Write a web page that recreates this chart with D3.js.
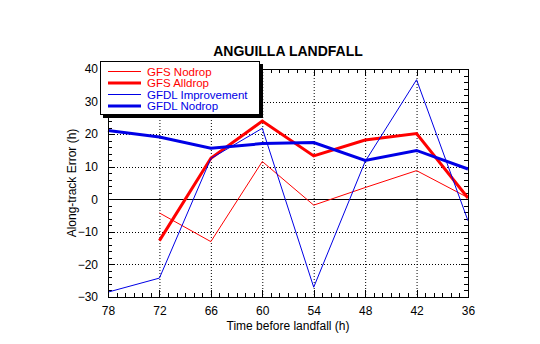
<!DOCTYPE html>
<html><head><meta charset="utf-8">
<script src="https://cdn.jsdelivr.net/npm/d3@7"></script>
<style>body{margin:0;background:#fff}svg{display:block}text{font-family:"Liberation Sans",Arial,Helvetica,sans-serif}</style>
</head><body>
<script>
const hours = [78,72,66,60,54,48,42,36];
const gfsNodrop = [null,-4.2,-13,11.6,-1.8,3.6,8.8,0.5];
const gfsAlldrop = [null,-12.7,12.6,24,13.3,18.2,20.2,0.4];
const gfdlImprovement = [-28.5,-24.2,12.5,21.8,-27,11.6,36.7,-6.6];
const gfdlNodrop = [21.1,19.1,15.7,17.1,17.4,11.9,15,9.3];
const xTicks = [78,72,66,60,54,48,42,36];
const yTicks = [-30,-20,-10,0,10,20,30,40];
const seriesNames = ["GFS Nodrop","GFS Alldrop","GFDL Improvement","GFDL Nodrop"];
const seriesData = [gfsNodrop,gfsAlldrop,gfdlImprovement,gfdlNodrop];
const seriesColors = ["#ff0000","#ff0000","#0000e6","#0000e6"];
const seriesWidths = [1,3,1,3];

const W=540,H=344, L=108,R=468,T=69,B=297;
const svg=d3.select("body").append("svg").attr("width",W).attr("height",H);
const x=d3.scaleLinear().domain([78,36]).range([L,R]);
const y=d3.scaleLinear().domain([-30,40]).range([B,T]);

// grid
const g=svg.append("g");
g.selectAll(".gx").data(xTicks.filter(d=>d!==78&&d!==36)).enter().append("line")
 .attr("x1",d=>x(d)+0.5).attr("x2",d=>x(d)+0.5).attr("y1",T).attr("y2",B)
 .attr("stroke","#000").attr("stroke-dasharray","1,2");
g.selectAll(".gy").data(yTicks.filter(d=>d!==-30&&d!==40&&d!==0)).enter().append("line")
 .attr("y1",d=>Math.round(y(d))+0.5).attr("y2",d=>Math.round(y(d))+0.5).attr("x1",L).attr("x2",R)
 .attr("stroke","#000").attr("stroke-dasharray","1,2");
g.append("line").attr("x1",L).attr("x2",R).attr("y1",Math.round(y(0))+0.5).attr("y2",Math.round(y(0))+0.5).attr("stroke","#000").attr("stroke-width",1.2);

// ticks on all sides
const xMinor=d3.range(36,79,1), yMinor=d3.range(-30,41,2);
xMinor.forEach(v=>{const len=(v%6===0)?7:4;const px=Math.round(x(v))+0.5;
 g.append("line").attr("x1",px).attr("x2",px).attr("y1",B).attr("y2",B-len).attr("stroke","#000");
 g.append("line").attr("x1",px).attr("x2",px).attr("y1",T).attr("y2",T+len).attr("stroke","#000");});
yMinor.forEach(v=>{const len=(v%10===0)?7:4;const py=Math.round(y(v))+0.5;
 g.append("line").attr("y1",py).attr("y2",py).attr("x1",L).attr("x2",L+len).attr("stroke","#000");
 g.append("line").attr("y1",py).attr("y2",py).attr("x1",R).attr("x2",R-len).attr("stroke","#000");});

// series
const line=d3.line().defined(d=>d[1]!==null).x(d=>x(d[0])).y(d=>y(d[1]));
seriesData.forEach((s,i)=>{
 svg.append("path").datum(hours.map((h,j)=>[h,s[j]])).attr("d",line)
  .attr("fill","none").attr("stroke",seriesColors[i]).attr("stroke-width",seriesWidths[i]).attr("stroke-linejoin","miter");
});

// frame
svg.append("rect").attr("x",L+0.5).attr("y",T+0.5).attr("width",R-L).attr("height",B-T).attr("fill","none").attr("stroke","#000");

// axes labels via d3 axes (text only)
const xa=svg.append("g").attr("transform",`translate(0,${B})`).call(d3.axisBottom(x).tickValues(xTicks).tickSize(0).tickPadding(9).tickFormat(d3.format("d")));
xa.select(".domain").remove();
xa.selectAll("text").attr("font-size",12).attr("fill","#000").attr("font-family","Liberation Sans, Arial, sans-serif");
const ya=svg.append("g").attr("transform",`translate(${L},0)`).call(d3.axisLeft(y).tickValues(yTicks).tickSize(0).tickPadding(10).tickFormat(d3.format("d")));
ya.select(".domain").remove();
ya.selectAll("text").attr("font-size",12).attr("fill","#000").attr("font-family","Liberation Sans, Arial, sans-serif");

svg.append("text").attr("x",(L+R)/2).attr("y",56).attr("text-anchor","middle").attr("font-size",14).attr("font-weight","bold").text("ANGUILLA LANDFALL");
svg.append("text").attr("x",(L+R)/2).attr("y",330).attr("text-anchor","middle").attr("font-size",12).text("Time before landfall (h)");
svg.append("text").attr("transform",`translate(76,${(T+B)/2}) rotate(-90)`).attr("text-anchor","middle").attr("font-size",12).text("Along-track Error (h)");

// legend
const lg=svg.append("g");
lg.append("rect").attr("x",103).attr("y",64).attr("width",160).attr("height",54).attr("fill","#000");
lg.append("rect").attr("x",100.5).attr("y",61.5).attr("width",159).attr("height",53).attr("fill","#fff").attr("stroke","#000");
seriesNames.forEach((n,i)=>{const yy=71.5+i*11.5;
 lg.append("line").attr("x1",108).attr("x2",141).attr("y1",yy).attr("y2",yy).attr("stroke",seriesColors[i]).attr("stroke-width",seriesWidths[i]);
 lg.append("text").attr("x",147).attr("y",yy+4).attr("font-size",11.5).attr("fill",seriesColors[i]).text(n);
});
</script>
</body></html>
